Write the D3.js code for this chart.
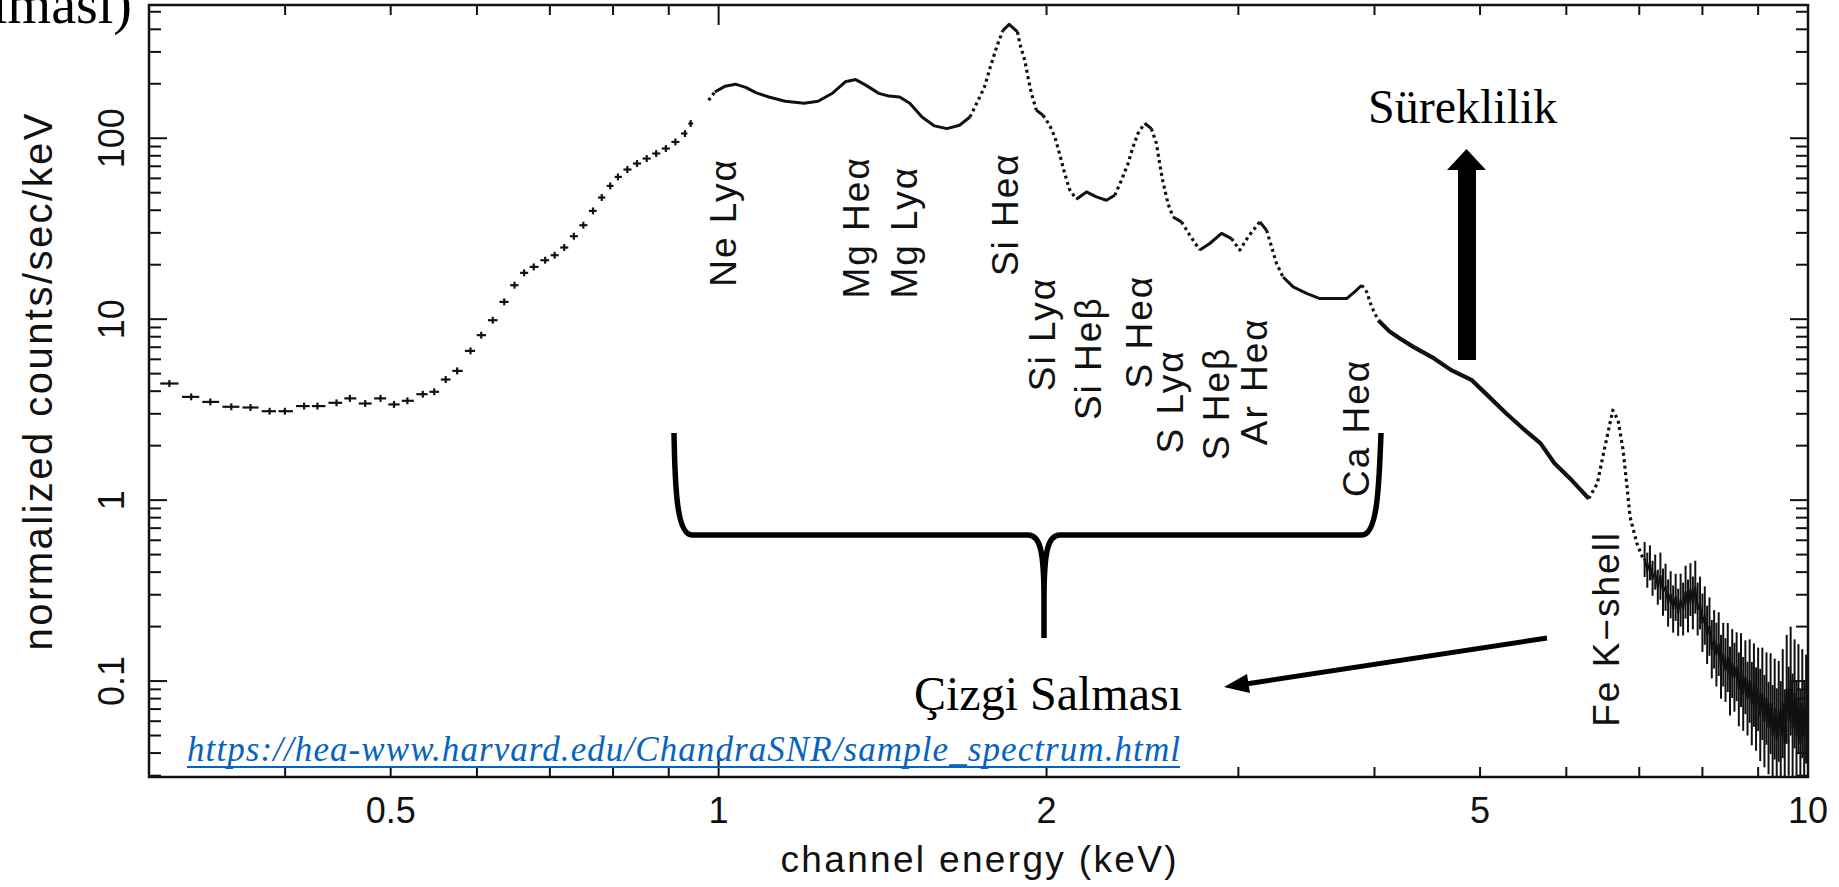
<!DOCTYPE html>
<html lang="tr">
<head>
<meta charset="utf-8">
<title>Sample spectrum</title>
<script src="https://cdn.jsdelivr.net/npm/d3@7"></script>
<style>
  html, body { margin: 0; padding: 0; background: #fff; overflow: hidden; }
  svg text { font-family: 'Liberation Sans', Arial, Helvetica, sans-serif; fill: #111; }
  svg text.serif { font-family: 'Liberation Serif', 'Times New Roman', serif; fill: #000; }
</style>
</head>
<body>
<svg id="chart" width="1839" height="887"></svg>
<script>
// low energy bins (keV, counts/sec/keV), drawn as crosses
const lowE = [0.3132, 0.3280, 0.3415, 0.3570, 0.3718, 0.3871, 0.3998, 0.4164, 0.4283, 0.4459,
  0.4587, 0.4738, 0.4894, 0.5035, 0.5180, 0.5351, 0.5482, 0.5617, 0.5754, 0.5919,
  0.6055, 0.6204, 0.6356, 0.6496, 0.6629, 0.6765, 0.6931, 0.7071, 0.7216, 0.7364,
  0.7513, 0.7668, 0.7811, 0.7953, 0.8083, 0.8246, 0.8416, 0.8590, 0.8764, 0.8945,
  0.9127, 0.9314, 0.9427];
const lowV = [4.41, 3.72, 3.49, 3.28, 3.25, 3.10, 3.10, 3.31, 3.31, 3.45,
  3.65, 3.42, 3.65, 3.38, 3.54, 3.85, 3.97, 4.64, 5.18, 6.68,
  8.16, 9.87, 12.46, 15.41, 18.03, 19.45, 21.18, 22.57, 24.90, 28.74,
  33.06, 39.67, 47.03, 54.52, 61.13, 67.17, 72.49, 77.23, 82.33, 87.73,
  95.41, 106.2, 120.6];

// main part of the spectrum
const specE = [0.979, 0.992, 1.014, 1.036, 1.059, 1.083, 1.112, 1.151, 1.198, 1.234,
  1.273, 1.307, 1.336, 1.366, 1.403, 1.434, 1.466, 1.498, 1.537, 1.578,
  1.620, 1.664, 1.701, 1.731, 1.754, 1.776, 1.800, 1.824, 1.848, 1.881,
  1.890, 1.910, 1.923, 1.937, 1.957, 1.985, 2.013, 2.035, 2.056, 2.078,
  2.100, 2.130, 2.176, 2.222, 2.270, 2.310, 2.343, 2.376, 2.401, 2.426,
  2.461, 2.496, 2.523, 2.540, 2.558, 2.585, 2.613, 2.660, 2.707, 2.765,
  2.824, 2.895, 2.957, 3.009, 3.062, 3.139, 3.184, 3.218, 3.252, 3.297,
  3.368, 3.465, 3.563, 3.665, 3.771, 3.838, 3.893, 3.934, 3.976, 4.032,
  4.133, 4.221, 4.342, 4.537, 4.704, 4.914, 5.058, 5.285, 5.520, 5.682,
  5.851, 6.067, 6.292, 6.407, 6.500, 6.619, 6.693, 6.765, 6.816, 6.865,
  6.965, 7.066];
const specV = [162, 180, 194, 199, 191, 178, 169, 160, 156, 160,
  178, 205, 211, 196, 177, 171, 169, 156, 131, 117,
  113, 118, 131, 162, 192, 248, 320, 395, 426, 387,
  334, 270, 218, 177, 143, 134, 118, 102, 82, 64,
  52, 46, 50.5, 47.4, 45.4, 48.4, 58.6, 72.5, 89.5, 106,
  121, 113, 93.5, 72.5, 57.4, 43.6, 36.7, 34.5, 29.1, 24.1,
  26.2, 29.8, 27.9, 24.1, 28.5, 34.5, 31.0, 25.1, 20.3, 17.1,
  15.1, 13.9, 13.0, 13.0, 13.0, 14.2, 15.4, 14.2, 11.7, 9.87,
  8.51, 7.82, 7.03, 6.07, 5.23, 4.60, 3.89, 3.01, 2.38, 2.06,
  1.60, 1.29, 1.02, 1.24, 1.89, 3.14, 2.77, 1.89, 1.24, 0.809,
  0.576, 0.466];

// noisy high energy tail with its (fractional) error bars
const tailE = [7.08, 7.12, 7.16, 7.20, 7.24, 7.28, 7.32, 7.36, 7.40, 7.44,
  7.48, 7.52, 7.56, 7.60, 7.64, 7.68, 7.72, 7.76, 7.80, 7.84,
  7.88, 7.92, 7.96, 8.00, 8.04, 8.08, 8.12, 8.16, 8.20, 8.24,
  8.28, 8.32, 8.36, 8.40, 8.44, 8.48, 8.52, 8.56, 8.60, 8.64,
  8.68, 8.72, 8.76, 8.80, 8.84, 8.88, 8.92, 8.96, 9.00, 9.04,
  9.08, 9.12, 9.16, 9.20, 9.24, 9.28, 9.32, 9.36, 9.40, 9.44,
  9.48, 9.52, 9.56, 9.60, 9.64, 9.68, 9.72, 9.76, 9.80, 9.84,
  9.88, 9.92, 9.96];
const tailV = [0.47, 0.41, 0.45, 0.37, 0.40, 0.33, 0.38, 0.31, 0.33, 0.27,
  0.30, 0.25, 0.29, 0.24, 0.28, 0.25, 0.31, 0.26, 0.32, 0.27,
  0.33, 0.25, 0.27, 0.21, 0.23, 0.18, 0.20, 0.15, 0.17, 0.14,
  0.16, 0.12, 0.14, 0.115, 0.135, 0.10, 0.125, 0.105, 0.12, 0.09,
  0.115, 0.085, 0.105, 0.08, 0.10, 0.075, 0.095, 0.07, 0.09, 0.065,
  0.085, 0.06, 0.08, 0.055, 0.075, 0.05, 0.07, 0.048, 0.068, 0.05,
  0.075, 0.045, 0.09, 0.06, 0.10, 0.055, 0.085, 0.05, 0.08, 0.045,
  0.075, 0.05, 0.07];
const tailErr = [0.25, 0.25, 0.25, 0.25, 0.25, 0.25, 0.35, 0.35, 0.35, 0.35,
  0.35, 0.35, 0.35, 0.35, 0.4, 0.4, 0.4, 0.4, 0.4, 0.4,
  0.4, 0.4, 0.4, 0.45, 0.45, 0.45, 0.45, 0.45, 0.45, 0.5,
  0.5, 0.5, 0.5, 0.5, 0.55, 0.55, 0.55, 0.55, 0.55, 0.6,
  0.6, 0.6, 0.6, 0.6, 0.7, 0.7, 0.7, 0.7, 0.7, 0.8,
  0.8, 0.8, 0.8, 0.8, 0.9, 0.9, 0.9, 0.9, 0.9, 1.0,
  1.0, 1.0, 1.0, 1.0, 1.0, 1.0, 1.0, 1.0, 1.0, 1.0,
  1.0, 1.0, 1.0];

const xTickLabels = [0.5, 1, 2, 5, 10];
const yTickLabels = [0.1, 1, 10, 100];

// line identifications: energy and value of the label's lower end
const lineLabels = [
  { text: 'Ne Ly\u03b1', e: 1.038, v: 15.1 },
  { text: 'Mg He\u03b1', e: 1.373, v: 13.0 },
  { text: 'Mg Ly\u03b1', e: 1.52, v: 13.0 },
  { text: 'Si He\u03b1', e: 1.882, v: 17.3 },
  { text: 'Si Ly\u03b1', e: 2.035, v: 4.0 },
  { text: 'Si He\u03b2', e: 2.243, v: 2.77 },
  { text: 'S He\u03b1', e: 2.498, v: 4.14 },
  { text: 'S Ly\u03b1', e: 2.668, v: 1.81 },
  { text: 'S He\u03b2', e: 2.94, v: 1.66 },
  { text: 'Ar He\u03b1', e: 3.186, v: 2.01 },
  { text: 'Ca He\u03b1', e: 3.953, v: 1.04 },
  { text: 'Fe K\u2212shell', e: 6.707, v: 0.0559 }
];

const svg = d3.select('#chart');
const plotLeft = 149, plotRight = 1808, plotTop = 5, plotBottom = 777;

const x = d3.scaleLog().domain([0.3, 10]).range([plotLeft, plotRight]);
const y = d3.scaleLog().domain([0.0295, 545]).range([plotBottom, plotTop]);

svg.append('defs').append('clipPath').attr('id', 'plot-area')
	.append('rect')
	.attr('x', plotLeft).attr('y', plotTop)
	.attr('width', plotRight - plotLeft).attr('height', plotBottom - plotTop);

const plot = svg.append('g').attr('clip-path', 'url(#plot-area)');

// crosses: horizontal bin bar + vertical error bar
function drawCrosses(g, E, V, errs, sw) {
	const xs = E.map((e) => x(e));
	const err = (i) => (Array.isArray(errs) ? errs[i] : errs);
	const halfL = xs.map((xi, i) => 0.42 * (i > 0 ? xi - xs[i - 1] : xs[i + 1] - xi));
	const halfR = xs.map((xi, i) => 0.42 * (i < xs.length - 1 ? xs[i + 1] - xi : xi - xs[i - 1]));

	g.selectAll(null)
		.data(E)
		.join('line')
		.attr('x1', (d, i) => xs[i] - halfL[i])
		.attr('x2', (d, i) => xs[i] + halfR[i])
		.attr('y1', (d, i) => y(V[i]))
		.attr('y2', (d, i) => y(V[i]))
		.attr('stroke', '#111')
		.attr('stroke-width', sw);
	g.selectAll(null)
		.data(E)
		.join('line')
		.attr('x1', (d, i) => xs[i])
		.attr('x2', (d, i) => xs[i])
		.attr('y1', (d, i) => y(V[i] * (1 + err(i))))
		.attr('y2', (d, i) => y(V[i] / (1 + err(i))))
		.attr('stroke', '#111')
		.attr('stroke-width', sw);
}

drawCrosses(plot.append('g'), lowE, lowV, 0.045, 2.2);

// main spectrum: steep stretches look dotted (separate bins), flat ones solid
const specPts = specE.map((e, i) => ({ e, px: x(e), py: y(specV[i]) }));
const runs = [];
d3.pairs(specPts).forEach(([a, b]) => {
	const thick = a.e >= 4.0 && b.e <= 6.3;
	const steep = !thick && Math.abs(b.py - a.py) > 1.25 * (b.px - a.px);
	const kind = thick ? 'thick' : steep ? 'dot' : 'solid';
	const last = runs[runs.length - 1];
	if (last && last.kind === kind) last.pts.push(b);
	else runs.push({ kind, pts: [a, b] });
});
const line = d3.line().x((d) => d.px).y((d) => d.py);

plot.selectAll('path.spec')
	.data(runs)
	.join('path')
	.attr('class', 'spec')
	.attr('d', (d) => line(d.pts))
	.attr('fill', 'none')
	.attr('stroke', '#111')
	.attr('stroke-width', (d) => (d.kind === 'thick' ? 4.2 : d.kind === 'dot' ? 3.2 : 3))
	.attr('stroke-dasharray', (d) => (d.kind === 'dot' ? '3 3.5' : null))
	.attr('stroke-linejoin', 'round');

// noisy tail
const tailPts = [specPts[specPts.length - 1]].concat(tailE.map((e, i) => ({ e, px: x(e), py: y(tailV[i]) })));
plot.append('path')
	.attr('d', line(tailPts))
	.attr('fill', 'none')
	.attr('stroke', '#111')
	.attr('stroke-width', 2);
drawCrosses(plot.append('g'), tailE, tailV, tailErr, 2);

// frame and inward ticks on all four sides
const axes = svg.append('g').attr('stroke', '#111');
axes.append('rect')
	.attr('x', plotLeft).attr('y', plotTop)
	.attr('width', plotRight - plotLeft).attr('height', plotBottom - plotTop)
	.attr('fill', 'none')
	.attr('stroke-width', 2.5);

const isDecade = (v) => Math.abs(Math.log10(v) - Math.round(Math.log10(v))) < 1e-6;
const xTicks = x.ticks().filter((v) => x(v) > plotLeft + 1 && x(v) < plotRight - 1);
const yTicks = y.ticks().filter((v) => y(v) > plotTop + 1 && y(v) < plotBottom - 1);

axes.selectAll('line.xb')
	.data(xTicks)
	.join('line')
	.attr('class', 'xb')
	.attr('x1', (d) => x(d)).attr('x2', (d) => x(d))
	.attr('y1', plotBottom).attr('y2', (d) => plotBottom - (isDecade(d) ? 20 : 10))
	.attr('stroke-width', 2);
axes.selectAll('line.xt')
	.data(xTicks)
	.join('line')
	.attr('class', 'xt')
	.attr('x1', (d) => x(d)).attr('x2', (d) => x(d))
	.attr('y1', plotTop).attr('y2', (d) => plotTop + (isDecade(d) ? 20 : 10))
	.attr('stroke-width', 2);
axes.selectAll('line.yl')
	.data(yTicks)
	.join('line')
	.attr('class', 'yl')
	.attr('y1', (d) => y(d)).attr('y2', (d) => y(d))
	.attr('x1', plotLeft).attr('x2', (d) => plotLeft + (isDecade(d) ? 18 : 12))
	.attr('stroke-width', 2);
axes.selectAll('line.yr')
	.data(yTicks)
	.join('line')
	.attr('class', 'yr')
	.attr('y1', (d) => y(d)).attr('y2', (d) => y(d))
	.attr('x1', plotRight).attr('x2', (d) => plotRight - (isDecade(d) ? 18 : 12))
	.attr('stroke-width', 2);

svg.append('g')
	.selectAll('text')
	.data(xTickLabels)
	.join('text')
	.attr('x', (d) => x(d))
	.attr('y', 823)
	.attr('text-anchor', 'middle')
	.style('font-size', '36px')
	.text((d) => d);

svg.append('g')
	.selectAll('text')
	.data(yTickLabels)
	.join('text')
	.attr('transform', (d) => `translate(124,${y(d)}) rotate(-90)`)
	.attr('text-anchor', 'middle')
	.style('font-size', '36px')
	.text((d) => d);

svg.append('text')
	.attr('x', (plotLeft + plotRight) / 2)
	.attr('y', 872)
	.attr('text-anchor', 'middle')
	.attr('textLength', 396)
	.attr('lengthAdjust', 'spacing')
	.style('font-size', '37px')
	.text('channel energy (keV)');

svg.append('text')
	.attr('transform', 'translate(52,382) rotate(-90)')
	.attr('text-anchor', 'middle')
	.attr('textLength', 537)
	.attr('lengthAdjust', 'spacing')
	.style('font-size', '40px')
	.text('normalized counts/sec/keV');

// line identifications
svg.append('g')
	.selectAll('text')
	.data(lineLabels)
	.join('text')
	.attr('transform', (d) => `translate(${x(d.e)},${y(d.v)}) rotate(-90)`)
	.style('font-size', '37px')
	.style('letter-spacing', '2px')
	.text((d) => d.text);

// annotations
const notes = svg.append('g');

// tail end of a caption that runs off the top left corner
notes.append('text')
	.attr('class', 'serif')
	.attr('x', 132).attr('y', 23)
	.attr('text-anchor', 'end')
	.style('font-size', '56px')
	.text('Salmas\u0131)');

// brace over the line emission region
notes.append('path')
	.attr('d', 'M674,433 C675,490 677,535 692,535 L1028,535 C1040,535 1044,550 1044,600 L1044,638 ' +
		'M1044,600 C1044,550 1048,535 1060,535 L1362,535 C1377,535 1379,490 1381,433')
	.attr('fill', 'none')
	.attr('stroke', '#000')
	.attr('stroke-width', 5.5);

notes.append('text')
	.attr('class', 'serif')
	.attr('x', 914).attr('y', 710)
	.style('font-size', '48px')
	.text('\u00c7izgi Salmas\u0131');

// arrow pointing at the label from the Fe region
notes.append('line')
	.attr('x1', 1547).attr('y1', 638)
	.attr('x2', 1246).attr('y2', 684)
	.attr('stroke', '#000')
	.attr('stroke-width', 5);
notes.append('path')
	.attr('d', 'M1224,687 L1250,693 L1247,674 Z')
	.attr('fill', '#000');

// continuum arrow
notes.append('rect')
	.attr('x', 1458).attr('y', 166)
	.attr('width', 18).attr('height', 194)
	.attr('fill', '#000');
notes.append('path')
	.attr('d', 'M1447,170 L1486,170 L1466.5,149 Z')
	.attr('fill', '#000');
notes.append('text')
	.attr('class', 'serif')
	.attr('x', 1368).attr('y', 123)
	.style('font-size', '48px')
	.text('S\u00fcreklilik');

// source link
notes.append('text')
	.attr('class', 'serif')
	.attr('x', 187).attr('y', 761)
	.attr('textLength', 993)
	.attr('lengthAdjust', 'spacing')
	.style('font-size', '35px')
	.style('font-style', 'italic')
	.style('fill', '#0563c1')
	.text('https://hea-www.harvard.edu/ChandraSNR/sample_spectrum.html');
notes.append('line')
	.attr('x1', 187).attr('x2', 1180)
	.attr('y1', 767).attr('y2', 767)
	.attr('stroke', '#0563c1')
	.attr('stroke-width', 2);
</script>
</body>
</html>
